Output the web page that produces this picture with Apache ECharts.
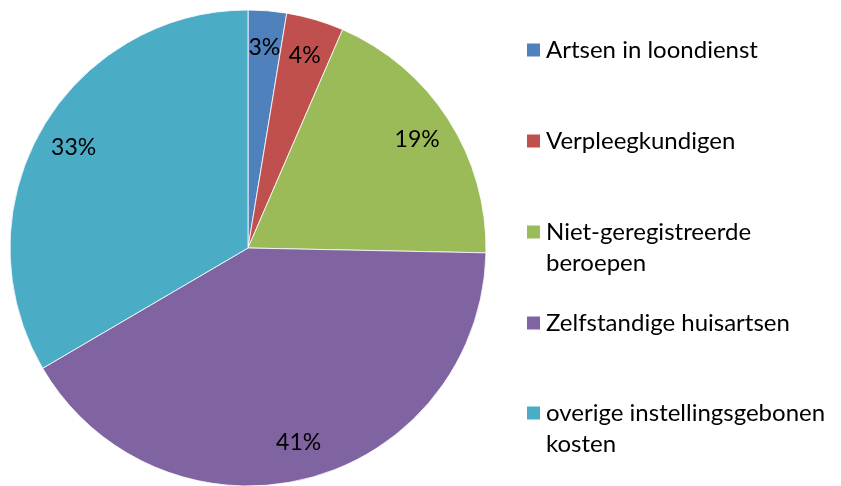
<!DOCTYPE html>
<html>
<head>
<meta charset="utf-8">
<script src="https://cdn.jsdelivr.net/npm/echarts@6/dist/echarts.min.js"></script>
<style>
  html, body { margin: 0; padding: 0; background: #fff; }
  #chart { width: 841px; height: 486px; }
</style>
</head>
<body>
<div id="chart"></div>
<script>
// categories and shares (percent of total)
var categories = ['Artsen in loondienst', 'Verpleegkundigen', 'Niet-geregistreerde beroepen', 'Zelfstandige huisartsen', 'overige instellingsgebonen kosten'];
var legendText = ['Artsen in loondienst', 'Verpleegkundigen', 'Niet-geregistreerde\nberoepen', 'Zelfstandige huisartsen', 'overige instellingsgebonen\nkosten'];
var shares = [2.6, 3.9, 18.8, 41.2, 33.4];
var colors = ['#4F81BD', '#C0504D', '#9BBB59', '#8064A2', '#4BACC6'];

var FONT = 'Lato';
var chart = echarts.init(document.getElementById('chart'));

var pieData = categories.map(function (c, i) {
    return { name: c, value: shares[i], itemStyle: { color: colors[i] } };
});
var labelData = categories.map(function (c, i) {
    return { name: c + ' ', value: shares[i] };
});

// one legend per item so the first lines keep a regular pitch
var legendCenters = [50, 141, 232, 323, 413];
var lineH = 31;
var legends = categories.map(function (c, i) {
    var lines = legendText[i].split('\n').length;
    var boxH = (lines > 1 ? lines * 2 - 1 : 1) * lineH;
    return {
        data: [c],
        orient: 'vertical',
        left: 525,
        top: legendCenters[i] - boxH / 2,
        padding: 0,
        icon: 'rect',
        itemWidth: 15,
        itemHeight: 15,
        itemGap: 0,
        selectedMode: false,
        formatter: function () {
            var parts = legendText[i].split('\n');
            if (parts.length > 1) {
                var pad = [];
                for (var k = 1; k < parts.length; k++) pad.push('');
                return pad.concat(parts).join('\n');
            }
            return parts[0];
        },
        textStyle: { fontFamily: FONT, fontSize: 24, color: '#000', lineHeight: lineH }
    };
});

var option = {
    animation: false,
    backgroundColor: '#fff',
    legend: legends,
    series: [
        {
            type: 'pie',
            center: [248, 248],
            radius: 238,
            startAngle: 90,
            clockwise: true,
            silent: true,
            label: { show: false },
            labelLine: { show: false },
            itemStyle: { borderColor: '#ffffff', borderWidth: 0.8 },
            data: pieData
        },
        {
            // transparent ring only used to place the percentage labels
            type: 'pie',
            center: [248, 248],
            radius: [158, 238],
            startAngle: 90,
            clockwise: true,
            silent: true,
            itemStyle: { color: 'rgba(0,0,0,0)' },
            label: {
                show: true,
                position: 'inside',
                fontFamily: FONT,
                fontSize: 23,
                color: '#000',
                formatter: function (p) { return Math.round(p.percent) + '%'; }
            },
            labelLine: { show: false },
            data: labelData
        }
    ]
};
chart.setOption(option);
</script>
</body>
</html>
